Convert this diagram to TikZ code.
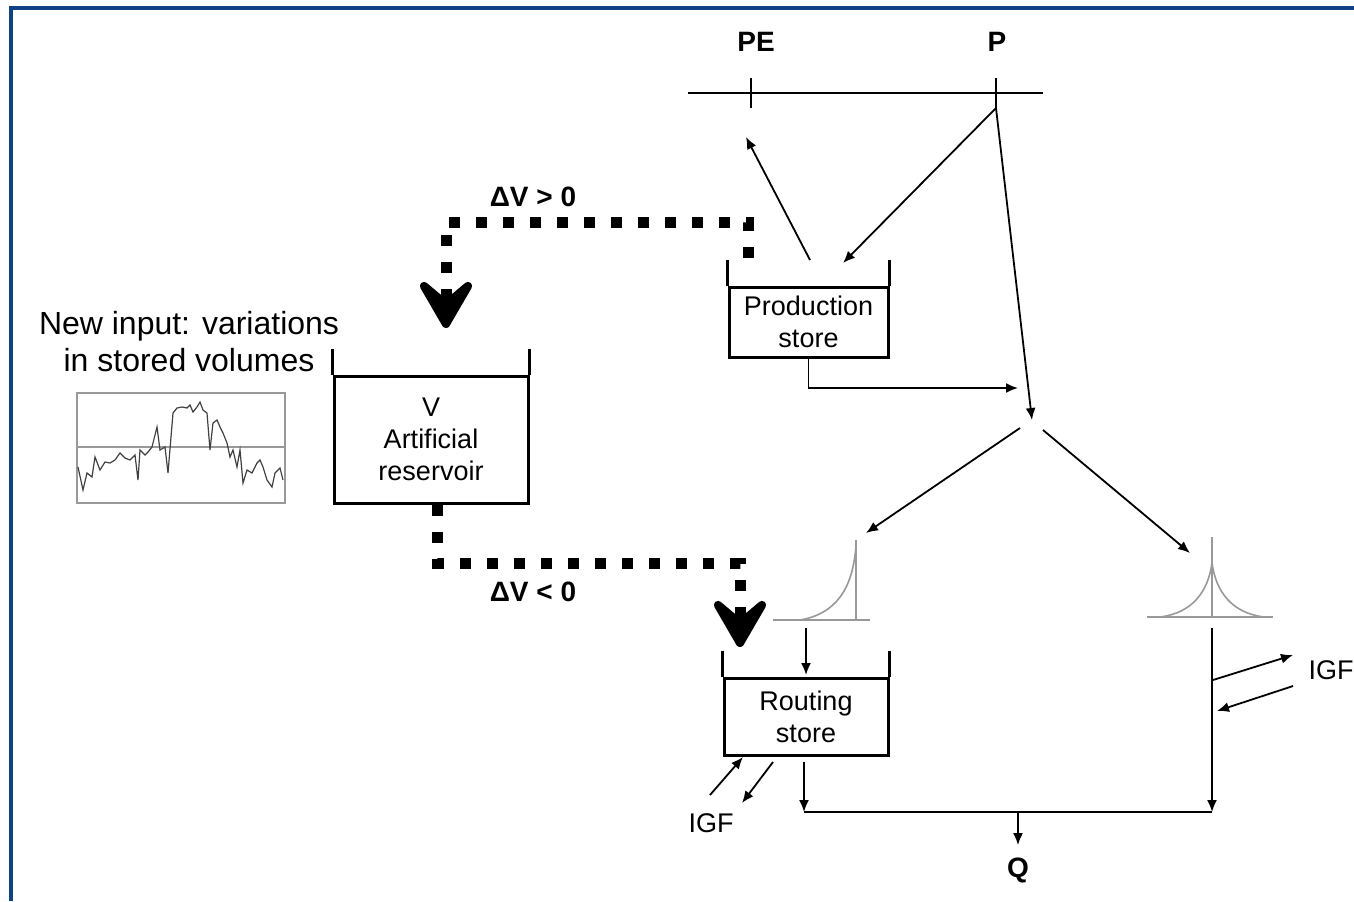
\documentclass[tikz,border=0pt]{standalone}
\usepackage{fontspec}
\setmainfont{Liberation Sans}
\usetikzlibrary{positioning, arrows.meta}
\definecolor{cadre}{RGB}{14,66,132}
\definecolor{hydro}{gray}{0.6}
\definecolor{signal}{gray}{0.25}

\newcommand{\ftexte}{\fontsize{13.5}{16}\selectfont}
\newcommand{\fgras}{\bfseries\fontsize{14}{16}\selectfont}
\newcommand{\fgrand}{\fontsize{16}{18.5}\selectfont}

\tikzset{
  store/.style={draw, line width=1.5pt, inner sep=0pt, align=center, font=\ftexte},
  paroi/.style={line width=1.5pt},
  trait/.style={line width=0.9pt},
  fleche/.style={-{Latex[length=6pt, width=5pt]}, line width=0.9pt},
  gras/.style={font=\fgras, inner sep=1pt},
  libre/.style={font=\ftexte, inner sep=1pt},
  pointille/.style={line width=5.5pt, dash pattern=on 5.5pt off 8pt,
                    -{Stealth[length=32pt, width=37pt, inset=15.5pt, round]}},
}

\begin{document}
\begin{tikzpicture}[x=0.5pt, y=-0.5pt]
  \useasboundingbox (0,0) rectangle (1354,901);

  % --- cadre, seulement en haut et a gauche -----------------------------
  \draw[cadre, line width=1.6pt] (11,901) -- (11,8) -- (1354,8);

  % --- forcages PE et P -------------------------------------------------
  \node[gras] (pe) at (756,42) {PE};
  \node[gras] (p) at (997,42) {P};
  \draw[trait] (688,93) -- (1043,93);
  \coordinate (pe-bas) at (751,108);
  \coordinate (p-bas) at (996,108);
  \draw[trait] (751,78) -- (pe-bas);
  \draw[trait] (996,78) -- (p-bas);

  % --- reservoirs -------------------------------------------------------
  \node[store, minimum width=79.5pt, minimum height=35pt] (prod)
       at (808.5,322) {Production\\store};
  \node[store, minimum width=97pt, minimum height=63.5pt] (art)
       at (431,439.5) {V\\Artificial\\reservoir};
  \node[store, minimum width=82pt, minimum height=38.5pt] (rout)
       at (806,716.5) {Routing\\store};
  \foreach \r in {prod, art, rout}
    \draw[paroi] ([yshift=13pt]\r.north west) -- (\r.north west)
                 (\r.north east) -- ([yshift=13pt]\r.north east);

  % --- nouvelle entree : variations de volume ---------------------------
  \node[font=\fgrand, align=center] (entree) at (189,341.5)
       {New input: variations\\in stored volumes};
  \draw[hydro, line width=0.7pt] (77,393) rectangle (285,503);
  \draw[hydro, line width=0.7pt] (77,447) -- (285,447);
  \draw[signal, line width=0.6pt] plot coordinates {
    (78,467) (83,490) (87,473) (92,477) (95,457) (100,470) (105,462)
    (110,463) (115,460) (120,453) (125,458) (130,460) (135,455) (138,480)
    (140,450) (145,455) (148,452) (152,447) (157,427) (160,450) (165,447)
    (168,473) (173,413) (177,408) (182,407) (187,408) (190,405) (193,412)
    (197,407) (200,402) (203,410) (207,413) (210,450) (213,423) (217,420)
    (220,427) (223,433) (227,443) (230,457) (233,450) (237,467) (240,450)
    (243,483) (247,470) (252,473) (257,463) (260,460) (263,467) (267,480)
    (272,487) (275,473) (280,468) (283,480)};

  % --- hydrogrammes unitaires -------------------------------------------
  \draw[hydro, line width=0.8pt] (773,620) -- (870,620) (856,540) -- (856,620);
  \draw[hydro, line width=0.8pt]
    (800,620) .. controls (835,614) and (853,590) .. (856,545);
  \draw[hydro, line width=0.8pt] (1147,617) -- (1273,617) (1212,537) -- (1212,617);
  \draw[hydro, line width=0.8pt]
    (1160,617) .. controls (1192,613) and (1208,592) .. (1212,563)
               .. controls (1216,592) and (1232,613) .. (1264,617);

  % --- points d'accroche ------------------------------------------------
  \coordinate (prod-in) at (843,263);
  \coordinate (prod-evap) at (810,260);
  \coordinate (pe-in) at (746,137);
  \coordinate (jonction) at (1032,420);
  \coordinate (perc) at (1018,388);
  \coordinate (jonc-g) at (1020,428);
  \coordinate (jonc-d) at (1043,430);
  \coordinate (uh1) at (866,533);
  \coordinate (uh2) at (1190,553);
  \coordinate (uh1-bas) at (806,628);
  \coordinate (rout-in) at (806,675);
  \coordinate (uh2-bas) at (1212,628);
  \coordinate (coll-g) at (804,812);
  \coordinate (coll-d) at (1212,812);
  \coordinate (rout-bas) at (804,762);
  \coordinate (sortie) at (1018,812);

  % --- flux -------------------------------------------------------------
  \draw[fleche] (p-bas) -- (prod-in);
  \draw[fleche] (prod-evap) -- (pe-in);
  \draw[fleche] (p-bas) -- (jonction);
  \draw[fleche] (prod.south) |- (perc);
  \draw[fleche] (jonc-g) -- (uh1);
  \draw[fleche] (jonc-d) -- (uh2);
  \draw[fleche] (uh1-bas) -- (rout-in);
  \draw[fleche] (uh2-bas) -- (coll-d);
  \draw[fleche] (rout-bas) -- (coll-g);
  \draw[trait] (coll-g) -- (coll-d);
  \node[gras, inner sep=6pt] (q) at (1018,870) {Q};
  \draw[fleche] (sortie) -- (q.north);

  % --- echanges souterrains IGF -----------------------------------------
  \node[libre] (igf-g) at (711,823) {IGF};
  \draw[fleche] (710,795) -- (743,757);
  \draw[fleche] (773,762) -- (742,803);
  \node[libre] (igf-d) at (1331,670) {IGF};
  \draw[fleche] (1213,680) -- (1293,655);
  \draw[fleche] (1293,686) -- (1217,711);

  % --- echanges avec le reservoir artificiel ----------------------------
  \coordinate (prod-haut) at (748,258);
  \coordinate (art-haut) at (446,328);
  \coordinate (art-bas) at (437,505);
  \coordinate (rout-haut) at (740,647);
  \draw[pointille] (prod-haut) -- (748,222) -- (446,222) -- (art-haut);
  \node[gras] (dv-plus) at (533,197) {ΔV > 0};
  \draw[pointille] (art-bas) -- (437,563) -- (740,563) -- (rout-haut);
  \node[gras] (dv-moins) at (533,592) {ΔV < 0};
\end{tikzpicture}
\end{document}
